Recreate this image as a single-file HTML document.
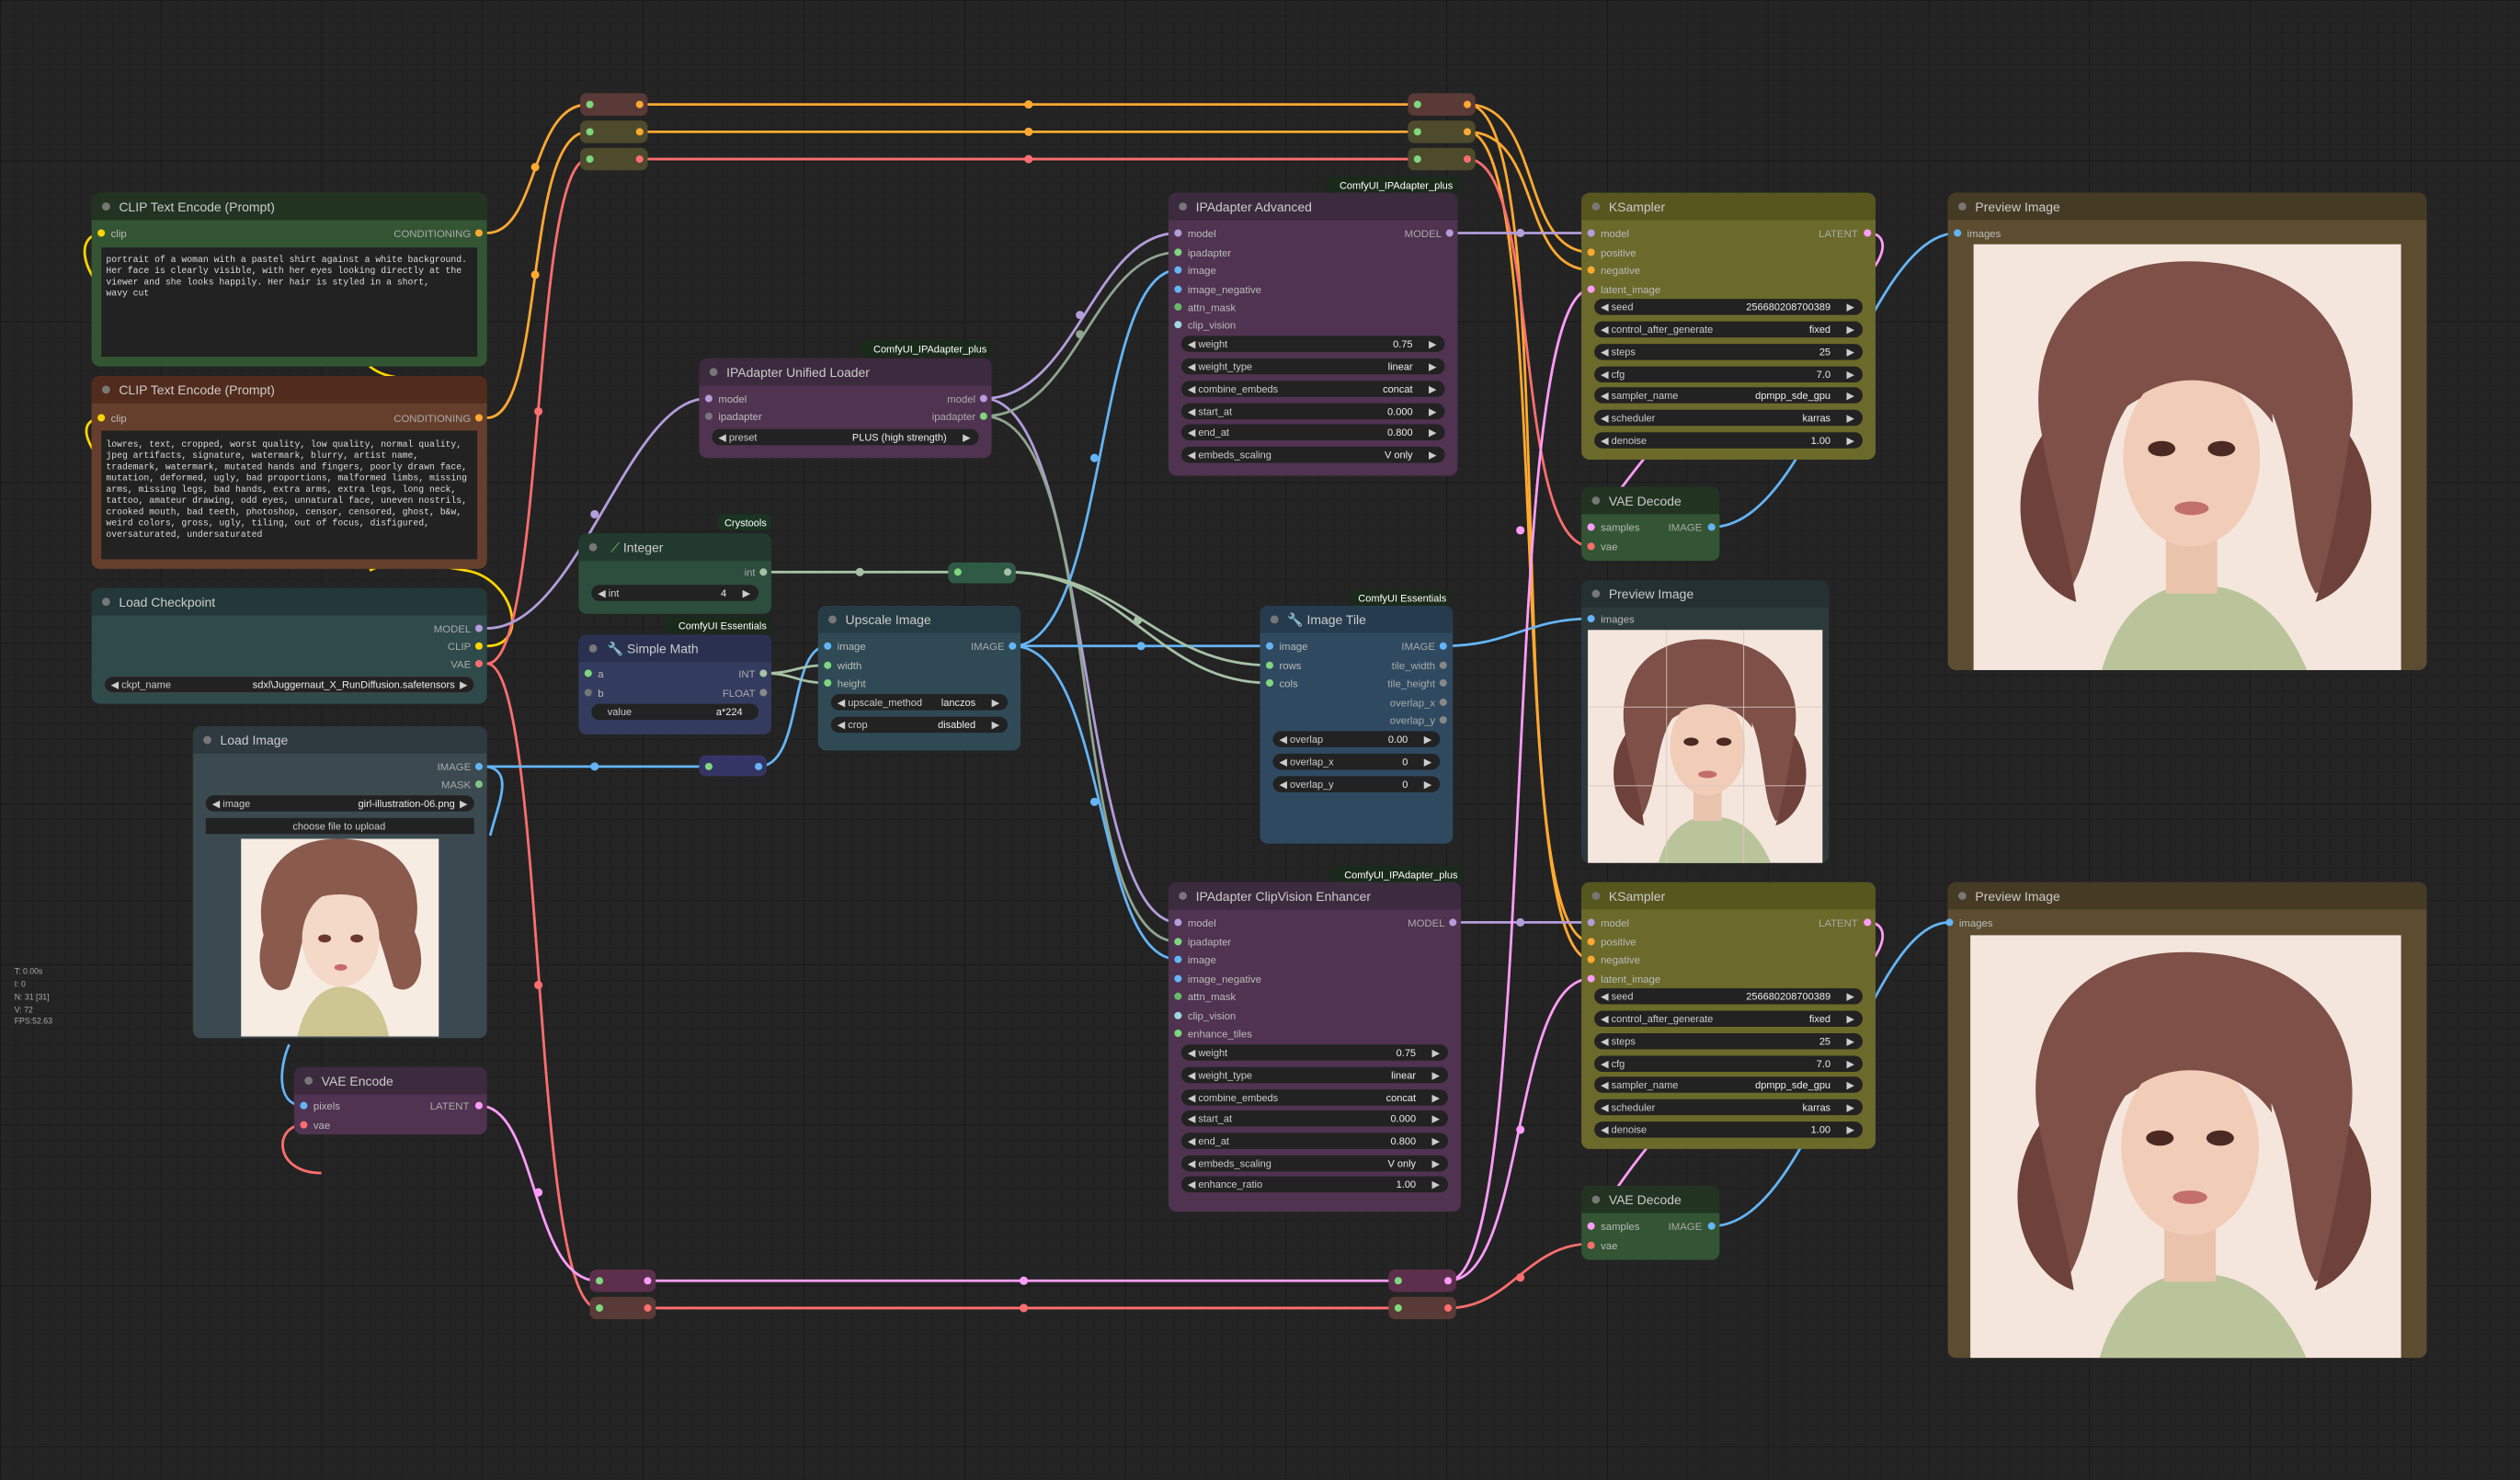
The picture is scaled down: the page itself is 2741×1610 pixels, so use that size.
<!DOCTYPE html>
<html><head><meta charset="utf-8"><style>
html,body{margin:0;padding:0;background:#222;}
svg{display:block}
text{font-family:"Liberation Sans",sans-serif;}
.t{font-size:8px;fill:#ccc}
.s{font-size:6.5px;fill:#bbb}
.so{font-size:6.5px;fill:#aaa;text-anchor:end}
.w{font-size:6.3px;fill:#ccc}
.wv{font-size:6.3px;fill:#eee;text-anchor:end}
.m{font-family:"Liberation Mono",monospace;font-size:5.6px;fill:#ddd}
.b{font-size:6.3px;fill:#fff;text-anchor:end}
.L{fill:none;stroke-width:1.6}
</style></head><body>
<svg width="2741" height="1610" viewBox="0 0 1568 921" xmlns="http://www.w3.org/2000/svg">
<defs>
<pattern id="g" width="10" height="10" patternUnits="userSpaceOnUse"><path d="M10 0H0V10" fill="none" stroke="#1c1c1c" stroke-width="0.6"/></pattern>
<pattern id="g2" width="100" height="100" patternUnits="userSpaceOnUse"><path d="M100 0H0V100" fill="none" stroke="#161616" stroke-width="0.8"/></pattern>
</defs>
<rect width="1568" height="921" fill="#242424"/>
<rect width="1568" height="921" fill="url(#g)"/>
<rect width="1568" height="921" fill="url(#g2)"/>

<g font-size="5" fill="#aaa"><text x="9" y="606">T: 0.00s</text><text x="9" y="614">I: 0</text><text x="9" y="622">N: 31 [31]</text><text x="9" y="630">V: 72</text><text x="9" y="637">FPS:52.63</text></g>

<g class="L">
<path d="M303 402 C330 402 320 360 290 355 C250 348 240 350 230 355" stroke="#ffd500"/>
<path d="M230 228 C240 236 250 234 250 236" stroke="#ffd500"/>
<path d="M63 145 C45 148 55 170 60 175" stroke="#ffd500"/>
<path d="M63 260 C48 262 55 275 58 280" stroke="#ffd500"/>
<path d="M303 145 C335 145 330 65 366 65" stroke="#ffa931"/>
<path d="M303 260 C340 260 325 82 366 82" stroke="#ffa931"/>
<path d="M398 65 H882" stroke="#ffa931"/>
<path d="M398 82 H882" stroke="#ffa931"/>
<path d="M913 65 C960 65 945 157 990 157" stroke="#ffa931"/>
<path d="M913 82 C960 82 945 168 990 168" stroke="#ffa931"/>
<path d="M913 65 C975 65 930 586 990 586" stroke="#ffa931"/>
<path d="M913 82 C968 82 935 597 990 597" stroke="#ffa931"/>
<path d="M303 413 C340 413 330 99 366 99" stroke="#ff6e6e"/>
<path d="M398 99 H882" stroke="#ff6e6e"/>
<path d="M913 99 C960 99 940 340 990 340" stroke="#ff6e6e"/>
<path d="M303 413 C340 413 330 814 372 814" stroke="#ff6e6e"/>
<path d="M404 814 H870" stroke="#ff6e6e"/>
<path d="M901 814 C940 814 950 774 990 774" stroke="#ff6e6e"/>
<path d="M189 700 C170 700 170 730 200 730" stroke="#ff6e6e"/>
<path d="M303 391 C360 391 390 248 440 248" stroke="#b39ddb"/>
<path d="M612 248 C670 248 680 145 733 145" stroke="#b39ddb"/>
<path d="M612 248 C680 248 670 574 733 574" stroke="#b39ddb"/>
<path d="M902 145 H990" stroke="#b39ddb"/>
<path d="M904 574 H990" stroke="#b39ddb"/>
<path d="M612 259 C670 259 680 157 733 157" stroke="#8fa58f"/>
<path d="M612 259 C690 259 660 586 733 586" stroke="#8fa58f"/>
<path d="M303 477 H440" stroke="#64b5f6"/>
<path d="M472 477 C500 477 490 402 515 402" stroke="#64b5f6"/>
<path d="M630 402 H790" stroke="#64b5f6"/>
<path d="M630 402 C690 402 680 168 733 168" stroke="#64b5f6"/>
<path d="M630 402 C690 402 680 597 733 597" stroke="#64b5f6"/>
<path d="M898 402 C940 402 950 385 990 385" stroke="#64b5f6"/>
<path d="M1065 328 C1130 328 1160 145 1218 145" stroke="#64b5f6"/>
<path d="M1065 763 C1130 763 1160 574 1213 574" stroke="#64b5f6"/>
<path d="M303 477 C320 480 310 500 305 520" stroke="#64b5f6"/>
<path d="M189 688 C170 688 175 660 180 650" stroke="#64b5f6"/>
<path d="M475 356 H595" stroke="#a6c2a6"/>
<path d="M627 356 C700 356 720 414 790 414" stroke="#a6c2a6"/>
<path d="M627 356 C700 356 720 425 790 425" stroke="#a6c2a6"/>
<path d="M475 419 C495 419 495 414 515 414" stroke="#a6c2a6"/>
<path d="M475 419 C495 419 495 425 515 425" stroke="#a6c2a6"/>
<path d="M298 688 C335 688 330 797 372 797" stroke="#ff9cf9"/>
<path d="M404 797 H870" stroke="#ff9cf9"/>
<path d="M901 797 C960 797 930 180 990 180" stroke="#ff9cf9"/>
<path d="M901 797 C950 797 940 609 990 609" stroke="#ff9cf9"/>
<path d="M1162 145 C1180 145 1170 170 1150 180 C1050 230 1000 320 990 328" stroke="#ff9cf9"/>
<path d="M1162 574 C1180 574 1170 600 1150 610 C1050 660 1000 750 990 763" stroke="#ff9cf9"/>
</g>
<g>
<circle cx="640" cy="65" r="2.6" fill="#ffa931"/><circle cx="640" cy="82" r="2.6" fill="#ffa931"/><circle cx="640" cy="99" r="2.6" fill="#ff6e6e"/>
<circle cx="637" cy="797" r="2.6" fill="#ff9cf9"/><circle cx="637" cy="814" r="2.6" fill="#ff6e6e"/>
<circle cx="333" cy="104" r="2.6" fill="#ffa931"/><circle cx="333" cy="171" r="2.6" fill="#ffa931"/><circle cx="335" cy="256" r="2.6" fill="#ff6e6e"/>
<circle cx="335" cy="613" r="2.6" fill="#ff6e6e"/><circle cx="335" cy="742" r="2.6" fill="#ff9cf9"/>
<circle cx="370" cy="320" r="2.6" fill="#b39ddb"/><circle cx="370" cy="477" r="2.6" fill="#64b5f6"/>
<circle cx="535" cy="356" r="2.6" fill="#a6c2a6"/><circle cx="710" cy="402" r="2.6" fill="#64b5f6"/>
<circle cx="672" cy="196" r="2.6" fill="#b39ddb"/><circle cx="672" cy="208" r="2.6" fill="#8fa58f"/>
<circle cx="681" cy="285" r="2.6" fill="#64b5f6"/><circle cx="681" cy="499" r="2.6" fill="#64b5f6"/>
<circle cx="946" cy="145" r="2.6" fill="#b39ddb"/><circle cx="946" cy="574" r="2.6" fill="#b39ddb"/>
<circle cx="946" cy="330" r="2.6" fill="#ff9cf9"/><circle cx="946" cy="703" r="2.6" fill="#ff9cf9"/>
<circle cx="946" cy="795" r="2.6" fill="#ff6e6e"/><circle cx="708" cy="386" r="2.6" fill="#a6c2a6"/>
</g>

<g>
<rect x="361" y="58" width="42" height="14" rx="4" fill="#5a3a36"/><circle cx="367" cy="65" r="2.3" fill="#7fd67f"/><circle cx="398" cy="65" r="2.3" fill="#ffa931"/>
<rect x="361" y="75" width="42" height="14" rx="4" fill="#4e4a2c"/><circle cx="367" cy="82" r="2.3" fill="#7fd67f"/><circle cx="398" cy="82" r="2.3" fill="#ffa931"/>
<rect x="361" y="92" width="42" height="14" rx="4" fill="#4e4a2c"/><circle cx="367" cy="99" r="2.3" fill="#7fd67f"/><circle cx="398" cy="99" r="2.3" fill="#ff6e6e"/>
<rect x="876" y="58" width="42" height="14" rx="4" fill="#5a3a36"/><circle cx="882" cy="65" r="2.3" fill="#7fd67f"/><circle cx="913" cy="65" r="2.3" fill="#ffa931"/>
<rect x="876" y="75" width="42" height="14" rx="4" fill="#4e4a2c"/><circle cx="882" cy="82" r="2.3" fill="#7fd67f"/><circle cx="913" cy="82" r="2.3" fill="#ffa931"/>
<rect x="876" y="92" width="42" height="14" rx="4" fill="#4e4a2c"/><circle cx="882" cy="99" r="2.3" fill="#7fd67f"/><circle cx="913" cy="99" r="2.3" fill="#ff6e6e"/>
<rect x="367" y="790" width="41" height="14" rx="4" fill="#5c2f4c"/><circle cx="373" cy="797" r="2.3" fill="#7fd67f"/><circle cx="403" cy="797" r="2.3" fill="#ff9cf9"/>
<rect x="367" y="807" width="41" height="14" rx="4" fill="#5a3a36"/><circle cx="373" cy="814" r="2.3" fill="#7fd67f"/><circle cx="403" cy="814" r="2.3" fill="#ff6e6e"/>
<rect x="864" y="790" width="42" height="14" rx="4" fill="#5c2f4c"/><circle cx="870" cy="797" r="2.3" fill="#7fd67f"/><circle cx="901" cy="797" r="2.3" fill="#ff9cf9"/>
<rect x="864" y="807" width="42" height="14" rx="4" fill="#5a3a36"/><circle cx="870" cy="814" r="2.3" fill="#7fd67f"/><circle cx="901" cy="814" r="2.3" fill="#ff6e6e"/>
<rect x="435" y="470" width="42" height="13" rx="4" fill="#353565"/><circle cx="441" cy="477" r="2.3" fill="#7fd67f"/><circle cx="472" cy="477" r="2.3" fill="#64b5f6"/>
<rect x="590" y="350" width="42" height="13" rx="4" fill="#2f5a45"/><circle cx="596" cy="356" r="2.3" fill="#7fd67f"/><circle cx="627" cy="356" r="2.3" fill="#a6c2a6"/>
</g>

<g>
<rect x="57" y="120" width="246" height="108" rx="5" fill="#335533"/>
<path d="M57 137V125a5 5 0 0 1 5-5h236a5 5 0 0 1 5 5v12z" fill="#223322"/>
<circle cx="66" cy="128.5" r="2.5" fill="#777"/><text class="t" x="74" y="131.5">CLIP Text Encode (Prompt)</text>
<circle cx="63" cy="145" r="2.3" fill="#ffd500"/><text class="s" x="69" y="147.5">clip</text>
<text class="so" x="293" y="147.5">CONDITIONING</text><circle cx="298" cy="145" r="2.3" fill="#ffa931"/>
<rect x="63" y="154" width="234" height="68" fill="#222"/>
<text class="m" x="66" y="163">portrait of a woman with a pastel shirt against a white background.</text>
<text class="m" x="66" y="170">Her face is clearly visible, with her eyes looking directly at the</text>
<text class="m" x="66" y="177">viewer and she looks happily. Her hair is styled in a short,</text>
<text class="m" x="66" y="184">wavy cut</text>
</g>
<g>
<rect x="57" y="234" width="246" height="120" rx="5" fill="#663f2c"/>
<path d="M57 251V239a5 5 0 0 1 5-5h236a5 5 0 0 1 5 5v12z" fill="#512b1b"/>
<circle cx="66" cy="242.5" r="2.5" fill="#777"/><text class="t" x="74" y="245.5">CLIP Text Encode (Prompt)</text>
<circle cx="63" cy="260" r="2.3" fill="#ffd500"/><text class="s" x="69" y="262.5">clip</text>
<text class="so" x="293" y="262.5">CONDITIONING</text><circle cx="298" cy="260" r="2.3" fill="#ffa931"/>
<rect x="63" y="268" width="234" height="80" fill="#222"/>
<text class="m" x="66" y="278">lowres, text, cropped, worst quality, low quality, normal quality,</text>
<text class="m" x="66" y="285">jpeg artifacts, signature, watermark, blurry, artist name,</text>
<text class="m" x="66" y="292">trademark, watermark, mutated hands and fingers, poorly drawn face,</text>
<text class="m" x="66" y="299">mutation, deformed, ugly, bad proportions, malformed limbs, missing</text>
<text class="m" x="66" y="306">arms, missing legs, bad hands, extra arms, extra legs, long neck,</text>
<text class="m" x="66" y="313">tattoo, amateur drawing, odd eyes, unnatural face, uneven nostrils,</text>
<text class="m" x="66" y="320">crooked mouth, bad teeth, photoshop, censor, censored, ghost, b&amp;w,</text>
<text class="m" x="66" y="327">weird colors, gross, ugly, tiling, out of focus, disfigured,</text>
<text class="m" x="66" y="334">oversaturated, undersaturated</text>
</g>
<g>
<rect x="57" y="366" width="246" height="72" rx="5" fill="#2e4a4a"/>
<path d="M57 383V371a5 5 0 0 1 5-5h236a5 5 0 0 1 5 5v12z" fill="#233838"/>
<circle cx="66" cy="374.5" r="2.5" fill="#777"/><text class="t" x="74" y="377.5">Load Checkpoint</text>
<text class="so" x="293" y="393.5">MODEL</text><circle cx="298" cy="391" r="2.3" fill="#b39ddb"/>
<text class="so" x="293" y="404.5">CLIP</text><circle cx="298" cy="402" r="2.3" fill="#ffd500"/>
<text class="so" x="293" y="415.5">VAE</text><circle cx="298" cy="413" r="2.3" fill="#ff6e6e"/>
<rect x="65" y="421" width="230" height="10" rx="5" fill="#222" stroke="#444" stroke-width=".5"/>
<text class="w" x="69" y="428.2">◀ ckpt_name</text><text class="wv" x="283" y="428.2">sdxl\Juggernaut_X_RunDiffusion.safetensors</text><text class="w" x="286" y="428.2">▶</text>
</g>
<g>
<rect x="120" y="452" width="183" height="194" rx="5" fill="#3b4a50"/>
<path d="M120 469V457a5 5 0 0 1 5-5h173a5 5 0 0 1 5 5v12z" fill="#2e3a40"/>
<circle cx="129" cy="460.5" r="2.5" fill="#777"/><text class="t" x="137" y="463.5">Load Image</text>
<text class="so" x="293" y="479.5">IMAGE</text><circle cx="298" cy="477" r="2.3" fill="#64b5f6"/>
<text class="so" x="293" y="490.5">MASK</text><circle cx="298" cy="488" r="2.3" fill="#81c784"/>
<rect x="128" y="495" width="167" height="10" rx="5" fill="#222"/>
<text class="w" x="132" y="502.2">◀ image</text><text class="wv" x="283" y="502.2">girl-illustration-06.png</text><text class="w" x="286" y="502.2">▶</text>
<rect x="128" y="509" width="167" height="10" fill="#222"/><text class="w" x="211" y="516.2" text-anchor="middle" fill="#ddd">choose file to upload</text>
<g transform="translate(150,522)">
<rect width="123" height="123" fill="#f7ece2"/>
<path d="M60 0 C18 0 8 35 14 60 C6 85 20 100 30 92 C40 70 35 45 62 30 C85 45 88 70 95 92 C108 100 118 80 108 58 C115 25 100 0 60 0Z" fill="#8a5a4c"/>
<ellipse cx="62" cy="62" rx="24" ry="30" fill="#f4d8c8"/>
<path d="M34 44 C40 18 88 16 92 48 C80 32 50 30 34 44Z" fill="#8a5a4c"/>
<path d="M35 123 C40 100 52 92 62 92 C75 92 88 100 92 123Z" fill="#cdc592"/>
<ellipse cx="52" cy="62" rx="4" ry="2.5" fill="#6a3a30"/><ellipse cx="72" cy="62" rx="4" ry="2.5" fill="#6a3a30"/>
<ellipse cx="62" cy="80" rx="4" ry="2" fill="#c96a6a"/>
</g>
</g>
<g>
<rect x="183" y="664" width="120" height="42" rx="5" fill="#4f3350"/>
<path d="M183 681V669a5 5 0 0 1 5-5h110a5 5 0 0 1 5 5v12z" fill="#3c2a3e"/>
<circle cx="192" cy="672.5" r="2.5" fill="#777"/><text class="t" x="200" y="675.5">VAE Encode</text>
<circle cx="189" cy="688" r="2.3" fill="#64b5f6"/><text class="s" x="195" y="690.5">pixels</text>
<circle cx="189" cy="700" r="2.3" fill="#ff6e6e"/><text class="s" x="195" y="702.5">vae</text>
<text class="so" x="292" y="690.5">LATENT</text><circle cx="298" cy="688" r="2.3" fill="#ff9cf9"/>
</g>
<g>
<rect x="447" y="320" width="33" height="10" rx="3" fill="#1a3322"/><text class="b" x="477" y="327.5">Crystools</text>
<rect x="360" y="332" width="120" height="50" rx="5" fill="#2d4d3d"/>
<path d="M360 349V337a5 5 0 0 1 5-5h110a5 5 0 0 1 5 5v12z" fill="#223a2e"/>
<circle cx="369" cy="340.5" r="2.5" fill="#777"/><text class="t" x="380" y="343.5"><tspan fill="#8c6">⟋</tspan> Integer</text>
<text class="so" x="470" y="358.5">int</text><circle cx="475" cy="356" r="2.3" fill="#a6c2a6"/>
<rect x="368" y="364" width="104" height="10" rx="5" fill="#222"/>
<text class="w" x="372" y="371.2">◀ int</text><text class="wv" x="452" y="371.2">4</text><text class="w" x="462" y="371.2">▶</text>
</g>
<g>
<rect x="413" y="384" width="67" height="10" rx="3" fill="#1a2a1a"/><text class="b" x="477" y="391.5">ComfyUI Essentials</text>
<rect x="360" y="395" width="120" height="62" rx="5" fill="#333c5e"/>
<path d="M360 412V400a5 5 0 0 1 5-5h110a5 5 0 0 1 5 5v12z" fill="#2a3150"/>
<circle cx="369" cy="403.5" r="2.5" fill="#777"/><text class="t" x="378" y="406.5">🔧 Simple Math</text>
<circle cx="366" cy="419" r="2.3" fill="#7fd67f"/><text class="s" x="372" y="421.5">a</text>
<circle cx="366" cy="431" r="2.3" fill="#777"/><text class="s" x="372" y="433.5">b</text>
<text class="so" x="470" y="421.5">INT</text><circle cx="475" cy="419" r="2.3" fill="#a6c2a6"/>
<text class="so" x="470" y="433.5">FLOAT</text><circle cx="475" cy="431" r="2.3" fill="#888"/>
<rect x="368" y="438" width="104" height="10" rx="5" fill="#222"/>
<text class="w" x="378" y="445.2">value</text><text class="wv" x="462" y="445.2">a*224</text>
</g>
<g>
<rect x="535" y="212" width="82" height="10" rx="3" fill="#1a2a1a"/><text class="b" x="614" y="219.5">ComfyUI_IPAdapter_plus</text>
<rect x="435" y="223" width="182" height="62" rx="5" fill="#4f3350"/>
<path d="M435 240V228a5 5 0 0 1 5-5h172a5 5 0 0 1 5 5v12z" fill="#3c2a3e"/>
<circle cx="444" cy="231.5" r="2.5" fill="#777"/><text class="t" x="452" y="234.5">IPAdapter Unified Loader</text>
<circle cx="441" cy="248" r="2.3" fill="#b39ddb"/><text class="s" x="447" y="250.5">model</text>
<circle cx="441" cy="259" r="2.3" fill="#777"/><text class="s" x="447" y="261.5">ipadapter</text>
<text class="so" x="607" y="250.5">model</text><circle cx="612" cy="248" r="2.3" fill="#b39ddb"/>
<text class="so" x="607" y="261.5">ipadapter</text><circle cx="612" cy="259" r="2.3" fill="#7fd67f"/>
<rect x="443" y="267" width="166" height="10" rx="5" fill="#222"/>
<text class="w" x="447" y="274.2">◀ preset</text><text class="wv" x="589" y="274.2">PLUS (high strength)</text><text class="w" x="599" y="274.2">▶</text>
</g>
<g>
<rect x="509" y="377" width="126" height="90" rx="5" fill="#2f4a55"/>
<path d="M509 394V382a5 5 0 0 1 5-5h116a5 5 0 0 1 5 5v12z" fill="#263c45"/>
<circle cx="518" cy="385.5" r="2.5" fill="#777"/><text class="t" x="526" y="388.5">Upscale Image</text>
<circle cx="515" cy="402" r="2.3" fill="#64b5f6"/><text class="s" x="521" y="404.5">image</text>
<circle cx="515" cy="414" r="2.3" fill="#7fd67f"/><text class="s" x="521" y="416.5">width</text>
<circle cx="515" cy="425" r="2.3" fill="#7fd67f"/><text class="s" x="521" y="427.5">height</text>
<text class="so" x="625" y="404.5">IMAGE</text><circle cx="630" cy="402" r="2.3" fill="#64b5f6"/>
<rect x="517" y="432" width="110" height="10" rx="5" fill="#222"/>
<text class="w" x="521" y="439.2">◀ upscale_method</text><text class="wv" x="607" y="439.2">lanczos</text><text class="w" x="617" y="439.2">▶</text>
<rect x="517" y="446" width="110" height="10" rx="5" fill="#222"/>
<text class="w" x="521" y="453.2">◀ crop</text><text class="wv" x="607" y="453.2">disabled</text><text class="w" x="617" y="453.2">▶</text>
</g>
<g>
<rect x="825" y="110" width="82" height="10" rx="3" fill="#1a2a1a"/><text class="b" x="904" y="117.5">ComfyUI_IPAdapter_plus</text>
<rect x="727" y="120" width="180" height="176" rx="5" fill="#4f3350"/>
<path d="M727 137V125a5 5 0 0 1 5-5h170a5 5 0 0 1 5 5v12z" fill="#3c2a3e"/>
<circle cx="736" cy="128.5" r="2.5" fill="#777"/><text class="t" x="744" y="131.5">IPAdapter Advanced</text>
<circle cx="733" cy="145" r="2.3" fill="#b39ddb"/><text class="s" x="739" y="147.5">model</text>
<circle cx="733" cy="157" r="2.3" fill="#7fd67f"/><text class="s" x="739" y="159.5">ipadapter</text>
<circle cx="733" cy="168" r="2.3" fill="#64b5f6"/><text class="s" x="739" y="170.5">image</text>
<circle cx="733" cy="180" r="2.3" fill="#64b5f6"/><text class="s" x="739" y="182.5">image_negative</text>
<circle cx="733" cy="191" r="2.3" fill="#66bb6a"/><text class="s" x="739" y="193.5">attn_mask</text>
<circle cx="733" cy="202" r="2.3" fill="#a0d8e0"/><text class="s" x="739" y="204.5">clip_vision</text>
<text class="so" x="897" y="147.5">MODEL</text><circle cx="902" cy="145" r="2.3" fill="#b39ddb"/>
<rect x="735" y="209" width="164" height="10" rx="5" fill="#222"/><text class="w" x="739" y="216.2">◀ weight</text><text class="wv" x="879" y="216.2">0.75</text><text class="w" x="889" y="216.2">▶</text>
<rect x="735" y="223" width="164" height="10" rx="5" fill="#222"/><text class="w" x="739" y="230.2">◀ weight_type</text><text class="wv" x="879" y="230.2">linear</text><text class="w" x="889" y="230.2">▶</text>
<rect x="735" y="237" width="164" height="10" rx="5" fill="#222"/><text class="w" x="739" y="244.2">◀ combine_embeds</text><text class="wv" x="879" y="244.2">concat</text><text class="w" x="889" y="244.2">▶</text>
<rect x="735" y="251" width="164" height="10" rx="5" fill="#222"/><text class="w" x="739" y="258.2">◀ start_at</text><text class="wv" x="879" y="258.2">0.000</text><text class="w" x="889" y="258.2">▶</text>
<rect x="735" y="264" width="164" height="10" rx="5" fill="#222"/><text class="w" x="739" y="271.2">◀ end_at</text><text class="wv" x="879" y="271.2">0.800</text><text class="w" x="889" y="271.2">▶</text>
<rect x="735" y="278" width="164" height="10" rx="5" fill="#222"/><text class="w" x="739" y="285.2">◀ embeds_scaling</text><text class="wv" x="879" y="285.2">V only</text><text class="w" x="889" y="285.2">▶</text>
</g>
<g>
<rect x="840" y="367" width="62" height="10" rx="3" fill="#1a2a1a"/><text class="b" x="900" y="374.5">ComfyUI Essentials</text>
<rect x="784" y="377" width="120" height="148" rx="5" fill="#2f4a60"/>
<path d="M784 394V382a5 5 0 0 1 5-5h110a5 5 0 0 1 5 5v12z" fill="#263c4e"/>
<circle cx="793" cy="385.5" r="2.5" fill="#777"/><text class="t" x="801" y="388.5">🔧 Image Tile</text>
<circle cx="790" cy="402" r="2.3" fill="#64b5f6"/><text class="s" x="796" y="404.5">image</text>
<circle cx="790" cy="414" r="2.3" fill="#7fd67f"/><text class="s" x="796" y="416.5">rows</text>
<circle cx="790" cy="425" r="2.3" fill="#7fd67f"/><text class="s" x="796" y="427.5">cols</text>
<text class="so" x="893" y="404.5">IMAGE</text><circle cx="898" cy="402" r="2.3" fill="#64b5f6"/>
<text class="so" x="893" y="416.5">tile_width</text><circle cx="898" cy="414" r="2.3" fill="#888"/>
<text class="so" x="893" y="427.5">tile_height</text><circle cx="898" cy="425" r="2.3" fill="#888"/>
<text class="so" x="893" y="439.5">overlap_x</text><circle cx="898" cy="437" r="2.3" fill="#888"/>
<text class="so" x="893" y="450.5">overlap_y</text><circle cx="898" cy="448" r="2.3" fill="#888"/>
<rect x="792" y="455" width="104" height="10" rx="5" fill="#222"/><text class="w" x="796" y="462.2">◀ overlap</text><text class="wv" x="876" y="462.2">0.00</text><text class="w" x="886" y="462.2">▶</text>
<rect x="792" y="469" width="104" height="10" rx="5" fill="#222"/><text class="w" x="796" y="476.2">◀ overlap_x</text><text class="wv" x="876" y="476.2">0</text><text class="w" x="886" y="476.2">▶</text>
<rect x="792" y="483" width="104" height="10" rx="5" fill="#222"/><text class="w" x="796" y="490.2">◀ overlap_y</text><text class="wv" x="876" y="490.2">0</text><text class="w" x="886" y="490.2">▶</text>
</g>
<g>
<rect x="828" y="539" width="82" height="10" rx="3" fill="#1a2a1a"/><text class="b" x="907" y="546.5">ComfyUI_IPAdapter_plus</text>
<rect x="727" y="549" width="182" height="205" rx="5" fill="#4f3350"/>
<path d="M727 566V554a5 5 0 0 1 5-5h172a5 5 0 0 1 5 5v12z" fill="#3c2a3e"/>
<circle cx="736" cy="557.5" r="2.5" fill="#777"/><text class="t" x="744" y="560.5">IPAdapter ClipVision Enhancer</text>
<circle cx="733" cy="574" r="2.3" fill="#b39ddb"/><text class="s" x="739" y="576.5">model</text>
<circle cx="733" cy="586" r="2.3" fill="#7fd67f"/><text class="s" x="739" y="588.5">ipadapter</text>
<circle cx="733" cy="597" r="2.3" fill="#64b5f6"/><text class="s" x="739" y="599.5">image</text>
<circle cx="733" cy="609" r="2.3" fill="#64b5f6"/><text class="s" x="739" y="611.5">image_negative</text>
<circle cx="733" cy="620" r="2.3" fill="#66bb6a"/><text class="s" x="739" y="622.5">attn_mask</text>
<circle cx="733" cy="632" r="2.3" fill="#a0d8e0"/><text class="s" x="739" y="634.5">clip_vision</text>
<circle cx="733" cy="643" r="2.3" fill="#7fd67f"/><text class="s" x="739" y="645.5">enhance_tiles</text>
<text class="so" x="899" y="576.5">MODEL</text><circle cx="904" cy="574" r="2.3" fill="#b39ddb"/>
<rect x="735" y="650" width="166" height="10" rx="5" fill="#222"/><text class="w" x="739" y="657.2">◀ weight</text><text class="wv" x="881" y="657.2">0.75</text><text class="w" x="891" y="657.2">▶</text>
<rect x="735" y="664" width="166" height="10" rx="5" fill="#222"/><text class="w" x="739" y="671.2">◀ weight_type</text><text class="wv" x="881" y="671.2">linear</text><text class="w" x="891" y="671.2">▶</text>
<rect x="735" y="678" width="166" height="10" rx="5" fill="#222"/><text class="w" x="739" y="685.2">◀ combine_embeds</text><text class="wv" x="881" y="685.2">concat</text><text class="w" x="891" y="685.2">▶</text>
<rect x="735" y="691" width="166" height="10" rx="5" fill="#222"/><text class="w" x="739" y="698.2">◀ start_at</text><text class="wv" x="881" y="698.2">0.000</text><text class="w" x="891" y="698.2">▶</text>
<rect x="735" y="705" width="166" height="10" rx="5" fill="#222"/><text class="w" x="739" y="712.2">◀ end_at</text><text class="wv" x="881" y="712.2">0.800</text><text class="w" x="891" y="712.2">▶</text>
<rect x="735" y="719" width="166" height="10" rx="5" fill="#222"/><text class="w" x="739" y="726.2">◀ embeds_scaling</text><text class="wv" x="881" y="726.2">V only</text><text class="w" x="891" y="726.2">▶</text>
<rect x="735" y="732" width="166" height="10" rx="5" fill="#222"/><text class="w" x="739" y="739.2">◀ enhance_ratio</text><text class="wv" x="881" y="739.2">1.00</text><text class="w" x="891" y="739.2">▶</text>
</g>
<g id="ks">
<rect x="984" y="120" width="183" height="166" rx="5" fill="#6b6a2a"/>
<path d="M984 137V125a5 5 0 0 1 5-5h173a5 5 0 0 1 5 5v12z" fill="#56561e"/>
<circle cx="993" cy="128.5" r="2.5" fill="#777"/><text class="t" x="1001" y="131.5">KSampler</text>
<circle cx="990" cy="145" r="2.3" fill="#b39ddb"/><text class="s" x="996" y="147.5" fill="#ddd">model</text>
<circle cx="990" cy="157" r="2.3" fill="#ffa931"/><text class="s" x="996" y="159.5" fill="#ddd">positive</text>
<circle cx="990" cy="168" r="2.3" fill="#ffa931"/><text class="s" x="996" y="170.5" fill="#ddd">negative</text>
<circle cx="990" cy="180" r="2.3" fill="#ff9cf9"/><text class="s" x="996" y="182.5" fill="#ddd">latent_image</text>
<text class="so" x="1156" y="147.5" fill="#ddd">LATENT</text><circle cx="1162" cy="145" r="2.3" fill="#ff9cf9"/>
<rect x="992" y="186" width="167" height="10" rx="5" fill="#222"/><text class="w" x="996" y="193.2">◀ seed</text><text class="wv" x="1139" y="193.2">256680208700389</text><text class="w" x="1149" y="193.2">▶</text>
<rect x="992" y="200" width="167" height="10" rx="5" fill="#222"/><text class="w" x="996" y="207.2">◀ control_after_generate</text><text class="wv" x="1139" y="207.2">fixed</text><text class="w" x="1149" y="207.2">▶</text>
<rect x="992" y="214" width="167" height="10" rx="5" fill="#222"/><text class="w" x="996" y="221.2">◀ steps</text><text class="wv" x="1139" y="221.2">25</text><text class="w" x="1149" y="221.2">▶</text>
<rect x="992" y="228" width="167" height="10" rx="5" fill="#222"/><text class="w" x="996" y="235.2">◀ cfg</text><text class="wv" x="1139" y="235.2">7.0</text><text class="w" x="1149" y="235.2">▶</text>
<rect x="992" y="241" width="167" height="10" rx="5" fill="#222"/><text class="w" x="996" y="248.2">◀ sampler_name</text><text class="wv" x="1139" y="248.2">dpmpp_sde_gpu</text><text class="w" x="1149" y="248.2">▶</text>
<rect x="992" y="255" width="167" height="10" rx="5" fill="#222"/><text class="w" x="996" y="262.2">◀ scheduler</text><text class="wv" x="1139" y="262.2">karras</text><text class="w" x="1149" y="262.2">▶</text>
<rect x="992" y="269" width="167" height="10" rx="5" fill="#222"/><text class="w" x="996" y="276.2">◀ denoise</text><text class="wv" x="1139" y="276.2">1.00</text><text class="w" x="1149" y="276.2">▶</text>
</g>
<use href="#ks" transform="translate(0,429)"/>
<g id="vd">
<rect x="984" y="303" width="86" height="46" rx="5" fill="#335533"/>
<path d="M984 320V308a5 5 0 0 1 5-5h76a5 5 0 0 1 5 5v12z" fill="#223322"/>
<circle cx="993" cy="311.5" r="2.5" fill="#777"/><text class="t" x="1001" y="314.5">VAE Decode</text>
<circle cx="990" cy="328" r="2.3" fill="#ff9cf9"/><text class="s" x="996" y="330.5" fill="#ddd">samples</text>
<circle cx="990" cy="340" r="2.3" fill="#ff6e6e"/><text class="s" x="996" y="342.5" fill="#ddd">vae</text>
<text class="so" x="1059" y="330.5" fill="#ddd">IMAGE</text><circle cx="1065" cy="328" r="2.3" fill="#64b5f6"/>
</g>
<use href="#vd" transform="translate(0,435)"/>

<defs>
<g id="face">
<rect width="100" height="100" fill="#f4e6dc"/>
<path d="M50 4 C22 4 12 25 16 45 C8 60 14 78 22 82 C30 70 28 50 36 38 C48 30 62 30 70 40 C76 55 74 72 80 82 C92 76 96 58 88 45 C92 22 78 4 50 4Z" fill="#7e5048"/>
<path d="M30 100 C34 86 42 80 52 80 C64 80 72 86 78 100Z" fill="#b9c49a"/>
<rect x="45" y="64" width="12" height="18" fill="#eac3ad"/>
<ellipse cx="51" cy="50" rx="16" ry="21" fill="#f1cdb8"/>
<path d="M34 40 C38 22 70 20 70 42 C62 30 44 28 34 40Z" fill="#7e5048"/>
<ellipse cx="44" cy="48" rx="3.2" ry="1.8" fill="#4a2a22"/><ellipse cx="58" cy="48" rx="3.2" ry="1.8" fill="#4a2a22"/>
<ellipse cx="51" cy="62" rx="4" ry="1.6" fill="#c4706a"/>
<path d="M16 45 C6 60 12 80 24 84 C22 70 18 58 16 45Z M88 45 C98 60 92 80 80 84 C84 70 86 58 88 45Z" fill="#6e423a"/>
</g>
</defs>
<g>
<rect x="1212" y="120" width="298" height="297" rx="5" fill="#5c4d30"/>
<path d="M1212 137V125a5 5 0 0 1 5-5h288a5 5 0 0 1 5 5v12z" fill="#453a23"/>
<circle cx="1221" cy="128.5" r="2.5" fill="#777"/><text class="t" x="1229" y="131.5">Preview Image</text>
<circle cx="1218" cy="145" r="2.3" fill="#64b5f6"/><text class="s" x="1224" y="147.5">images</text>
<use href="#face" transform="translate(1228,152) scale(2.66,2.65)"/>
</g>
<g>
<rect x="984" y="361" width="154" height="176" rx="5" fill="#2d3a3c"/>
<path d="M984 378V366a5 5 0 0 1 5-5h144a5 5 0 0 1 5 5v12z" fill="#253032"/>
<circle cx="993" cy="369.5" r="2.5" fill="#777"/><text class="t" x="1001" y="372.5">Preview Image</text>
<circle cx="990" cy="385" r="2.3" fill="#64b5f6"/><text class="s" x="996" y="387.5">images</text>
<use href="#face" transform="translate(988,392) scale(1.46,1.45)"/>
<path d="M1037 392V537M1085 392V537M988 440H1134M988 489H1134" stroke="#d8c8c0" stroke-width=".5"/>
</g>
<g>
<rect x="1212" y="549" width="298" height="296" rx="5" fill="#5c4d30"/>
<path d="M1212 566V554a5 5 0 0 1 5-5h288a5 5 0 0 1 5 5v12z" fill="#453a23"/>
<circle cx="1221" cy="557.5" r="2.5" fill="#777"/><text class="t" x="1229" y="560.5">Preview Image</text>
<circle cx="1213" cy="574" r="2.3" fill="#64b5f6"/><text class="s" x="1219" y="576.5">images</text>
<use href="#face" transform="translate(1226,582) scale(2.68,2.63)"/>
</g>
</svg>
</body></html>
